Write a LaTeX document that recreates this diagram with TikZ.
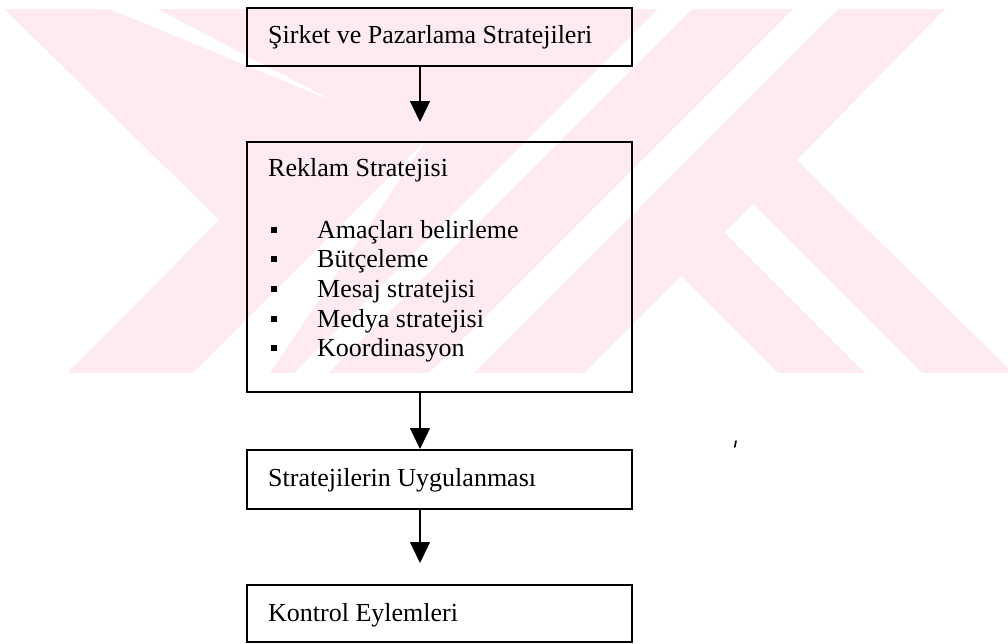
\documentclass[tikz,border=0pt]{standalone}
\usepackage{fontspec}
\setmainfont{Liberation Serif}
\usetikzlibrary{arrows.meta}
\definecolor{wmpink}{RGB}{253,235,239}

\begin{document}
\begin{tikzpicture}[x=1pt, y=-1pt,
        box/.style = {draw, line width=1.5pt, anchor=north west, minimum width=385pt, inner sep=0pt},
        txt/.style = {anchor=base west, inner sep=0pt, font=\fontsize{26}{30}\selectfont},
        blt/.style = {fill, minimum size=6pt, inner sep=0pt},
        arr/.style = {line width=1.3pt, -{Triangle[width=20pt, length=21pt]}}]
    \useasboundingbox (0,0) rectangle (1008,643);
    % watermark
    \fill[wmpink] (0,9) rectangle (1008,373);
    \fill[white] (0,9) -- (4,9) -- (219,220) -- (67,373) -- (0,373) -- cycle;
    \fill[white] (110,9) -- (157,9) -- (335,102) -- cycle;
    \fill[white] (427,139) -- (270,373) -- (193,373) -- cycle;
    \fill[white] (658,9) -- (692,9) -- (328,373) -- (294,373) -- cycle;
    \fill[white] (793,9) -- (838,9) -- (474,373) -- (429,373) -- cycle;
    \fill[white] (945,9) -- (1008,9) -- (1008,368) -- (797,160) -- cycle;
    \fill[white] (753,204) -- (922,373) -- (865,373) -- (724.5,232.5) -- cycle;
    \fill[white] (681,276) -- (778,373) -- (584,373) -- cycle;
    \draw[line width=1.6pt, line cap=round] (736,441) -- (734.8,447);
    % boxes
    \node[box, minimum height=58pt] (sps) at (246,7) {};
    \node[box, minimum height=250pt] (rs) at (246,141) {};
    \node[box, minimum height=59pt] (su) at (246,449) {};
    \node[box, minimum height=57pt] (ke) at (246,584) {};
    \node[txt] (t1) at (268,43) {Şirket ve Pazarlama Stratejileri};
    \node[txt] (t2) at (268,176) {Reklam Stratejisi};
    \node[txt] (t3) at (268,486) {Stratejilerin Uygulanması};
    \node[txt] (t4) at (268,621) {Kontrol Eylemleri};
    \foreach \item [count=\i] in {Amaçları belirleme, Bütçeleme, Mesaj stratejisi, Medya stratejisi, Koordinasyon} {
        \node[blt] (b\i) at (273.5, {229.5+29.7*(\i-1)}) {};
        \node[txt] (m\i) at (317, {238+29.7*(\i-1)}) {\item};
    }
    % arrows
    \coordinate (ax) at (420,0);
    \coordinate (e1) at (420,122);
    \coordinate (e3) at (420,563);
    \draw[arr] (sps.south -| ax) -- (e1);
    \draw[arr] (rs.south -| ax) -- (su.north -| ax);
    \draw[arr] (su.south -| ax) -- (e3);
\end{tikzpicture}
\end{document}
